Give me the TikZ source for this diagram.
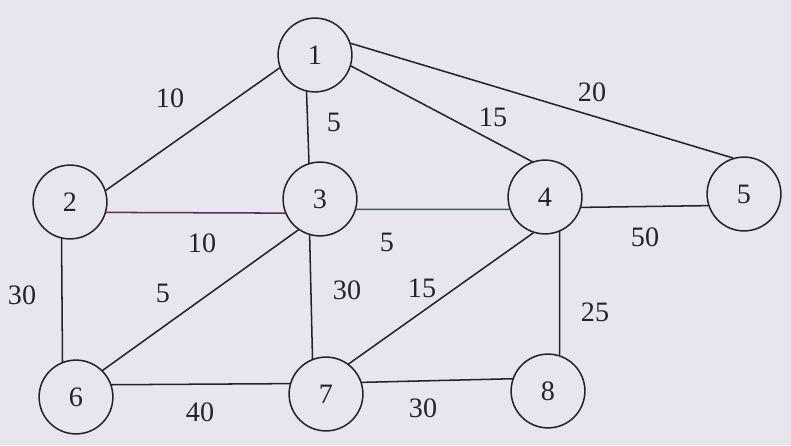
\documentclass[tikz,border=0pt]{standalone}
\usepackage{fontspec}
\setmainfont{Liberation Serif}
\newfontfamily\tms{Liberation Serif}
\definecolor{paper}{RGB}{231,230,239}
\definecolor{ink}{RGB}{35,35,40}
\definecolor{inkp}{RGB}{95,45,85}
\definecolor{inkg}{RGB}{55,95,70}
\begin{document}
\begin{tikzpicture}[x=0.03cm, y=-0.03cm, font=\tms\fontsize{24}{28}\selectfont, line join=round, line cap=round,
	vertex/.style={circle, draw=ink, line width=1.3pt, minimum size=63pt, inner sep=0pt, text=ink},
	wt/.style={text=ink, inner sep=0pt}]
	\fill[paper] (0,0) rectangle (791,445);
	\useasboundingbox (0,0) rectangle (791,445);
	% vertices
	\foreach \v/\x/\y in {1/315/55,2/70/202,3/320/199,4/545/197,5/744/194,6/76/397,7/326/394,8/548/391}
		\node[vertex] (v\v) at (\x,\y) {\v};
	% edges
	\foreach \a/\p/\b/\q/\c in {1/200/2/18/ink,1/257/3/107/ink,1/-17/4/110/ink,1/18/5/107/ink,
		2/-16/3/202/inkp,2/257/6/111/ink,3/-16/4/199/inkg,3/235/6/45/ink,3/254/7/111/ink,
		4/-16/5/198/ink,4/252/7/53/ink,4/-67/8/72/ink,6/19/7/164/ink,7/18/8/161/ink}
		\draw[\c, line width=1.3pt] (v\a.\p)--(v\b.\q);
	% weights
	\foreach \i/\x/\y/\w in {1/170/98/10,2/334/122/5,3/493/117/15,4/592/92/20,5/202/243/10,6/22/295/30,
		7/387/242/5,8/163/293/5,9/347/290/30,10/645/237/50,11/422/288/15,12/595/312/25,13/200/412/40,14/423/408/30}
		\node[wt] (w\i) at (\x,\y) {\w};
\end{tikzpicture}
\end{document}
